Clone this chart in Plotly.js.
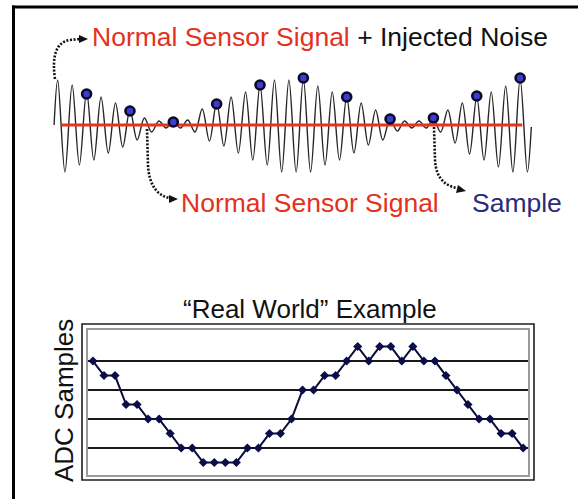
<!DOCTYPE html>
<html>
<head>
<meta charset="utf-8">
<script src="https://cdn.plot.ly/plotly-3.0.1.min.js"></script>
<style>html,body{margin:0;padding:0;background:#fff;}#chart{width:578px;height:499px;}</style>
</head>
<body>
<div id="chart"></div>
<script>
// ---- Top illustration: noisy signal extrema (amplitude relative to the normal signal) ----
const waveT = [-0.5, 0,1,2,3,4,5,6,7,8,9,10,11,12,13,14,15,16,17,18,19,20,21,22,23,24,25,26,27,28,29,30,31,32,33,34,35,36,37,38,39,40,41,42,43,44,45,46,47,48,49,50,51,52,53,54,55,56,57,58,59,60,61,62,63,64,65, 65.55];
const waveAmp = [0,
  45,-47,40,-40,33,-35,28,-28,22,-22,
  15,-15,7,-7,4,-3,4,-3,5,-7,
  16,-16,22,-21,28,-28,33,-35,40,-40,
  45,-47,45,-47,46,-47,39,-40,33,-35,
  28,-28,22,-20,15,-15,6,-6,4,-3,
  4,-3,6,-7,15,-18,22,-29,28,-35,
  33,-42,39,-47,46,-47,
  -2];
const sampleT = [4,10,16,22,28,34,40,46,52,58,64];
const sampleV = [31,14,3,21,40,47,28,6,7,29,47];
const signalT = [0.6, 64.3];
const signalV = [0, 0];

// ---- Bottom chart: "Real World" ADC samples ----
const adcIndex = Array.from({length: 40}, (_, i) => i);
const adcSamples = [8,7,7,5,5,4,4,3,2,2,1,1,1,1,2,2,3,3,4,6,6,7,7,8,9,8,9,9,8,9,8,8,7,6,5,4,4,3,3,2];
const adcGrid = [2,4,6,8];

// ---- Texts ----
const topLabelRed = "Normal Sensor Signal";
const topLabelBlack = " + Injected Noise";
const signalLabel = "Normal Sensor Signal";
const sampleLabel = "Sample";
const chartTitle = "\u201CReal World\u201D Example";
const yTitle = "ADC Samples";

const W = 578, H = 499;
const px = x => x / W;
const py = y => 1 - y / H;
const FONT = "Liberation Sans, Arial, Helvetica, sans-serif";
const RED = "#e4311d", NAVY = "#2b2b7c";

function path(cmds) {
  return cmds.map(c => {
    const L = c[0]; let s = L;
    for (let i = 1; i < c.length; i += 2) s += (i > 1 ? ',' : ' ') + px(c[i]).toFixed(5) + ' ' + py(c[i+1]).toFixed(5);
    return s;
  }).join(' ');
}

const traces = [
  {x: waveT, y: waveAmp, xaxis: 'x', yaxis: 'y', mode: 'lines',
   line: {color: '#262626', width: 1.4, shape: 'spline', smoothing: 1}, hoverinfo: 'skip'},
  {x: signalT, y: signalV, xaxis: 'x', yaxis: 'y', mode: 'lines',
   line: {color: '#e8321a', width: 3}, hoverinfo: 'skip'},
  {x: sampleT, y: sampleV, xaxis: 'x', yaxis: 'y', mode: 'markers',
   marker: {size: 9, color: '#3c3cd0', line: {color: '#0a0a28', width: 2.6}}, hoverinfo: 'skip'},
  {x: adcIndex, y: adcSamples, xaxis: 'x2', yaxis: 'y2', mode: 'lines+markers',
   line: {color: '#0c0c3c', width: 2}, marker: {symbol: 'diamond', size: 7, color: '#0c0c48'}, hoverinfo: 'skip'}
];

const dotted = {color: '#111', width: 2.6, dash: '2px,1.6px'};
const shapes = [
  {type: 'line', xref: 'paper', yref: 'paper', x0: px(13.5), x1: px(13.5), y0: py(5.5), y1: py(499), line: {color: '#000', width: 3}},
  {type: 'line', xref: 'paper', yref: 'paper', x0: px(12), x1: px(578), y0: py(7), y1: py(7), line: {color: '#000', width: 3}},
  {type: 'rect', xref: 'paper', yref: 'paper', x0: px(82), x1: px(534), y0: py(480), y1: py(324), line: {color: '#1e1e1e', width: 1.6}},
  {type: 'path', xref: 'paper', yref: 'paper', path: path([['M',55,79],['C',52,58, 55,42, 70,40],['L',80,39]]), line: dotted},
  {type: 'path', xref: 'paper', yref: 'paper', path: path([['M',88,39],['L',79,35],['L',79,43],['Z']]), fillcolor: '#111', line: {width: 0}},
  {type: 'path', xref: 'paper', yref: 'paper', path: path([['M',147,129],['L',148,165],['C',149,186, 158,196, 170,198]]), line: dotted},
  {type: 'path', xref: 'paper', yref: 'paper', path: path([['M',178,199],['L',169,195],['L',169,203],['Z']]), fillcolor: '#111', line: {width: 0}},
  {type: 'path', xref: 'paper', yref: 'paper', path: path([['M',434,127],['L',435,160],['C',436,180, 447,186, 457,188]]), line: dotted},
  {type: 'path', xref: 'paper', yref: 'paper', path: path([['M',466,191],['L',458,185],['L',456,193],['Z']]), fillcolor: '#111', line: {width: 0}}
];

const annotations = [
  {xref: 'paper', yref: 'paper', x: px(90), y: py(37), xanchor: 'left', yanchor: 'middle', showarrow: false,
   text: '<span style="color:' + RED + '">' + topLabelRed + '</span>' + topLabelBlack,
   font: {family: FONT, size: 26.5, color: '#111'}},
  {xref: 'paper', yref: 'paper', x: px(179), y: py(203), xanchor: 'left', yanchor: 'middle', showarrow: false,
   text: signalLabel, font: {family: FONT, size: 26.5, color: RED}},
  {xref: 'paper', yref: 'paper', x: px(470), y: py(203), xanchor: 'left', yanchor: 'middle', showarrow: false,
   text: sampleLabel, font: {family: FONT, size: 26.5, color: NAVY}},
  {xref: 'paper', yref: 'paper', x: px(310), y: py(309), xanchor: 'center', yanchor: 'middle', showarrow: false,
   text: chartTitle, font: {family: FONT, size: 26, color: '#111'}},
  {xref: 'paper', yref: 'paper', x: px(64), y: py(401), xanchor: 'center', yanchor: 'middle', showarrow: false,
   textangle: -90, text: yTitle, font: {family: FONT, size: 26, color: '#111'}}
];

const layout = {
  width: W, height: H,
  margin: {l: 0, r: 0, t: 0, b: 0, pad: 0},
  paper_bgcolor: '#fff', plot_bgcolor: 'rgba(0,0,0,0)',
  showlegend: false,
  xaxis: {domain: [0, 1], range: [-7.986, 72.01], visible: false, fixedrange: true},
  yaxis: {domain: [py(190), py(60)], range: [-65, 65], visible: false, fixedrange: true},
  xaxis2: {domain: [px(88), px(528)], range: [-0.45, 39.44], anchor: 'y2',
    showgrid: false, zeroline: false, showticklabels: false, ticks: '',
    showline: true, mirror: true, linecolor: '#9a9a9a', linewidth: 1.6, fixedrange: true},
  yaxis2: {domain: [py(475), py(330)], range: [0.14, 10.14], anchor: 'x2',
    tickmode: 'array', tickvals: adcGrid, showgrid: true, gridcolor: '#1a1a1a', gridwidth: 1.3,
    zeroline: false, showticklabels: false, ticks: '',
    showline: true, mirror: true, linecolor: '#9a9a9a', linewidth: 1.6, fixedrange: true},
  shapes: shapes,
  annotations: annotations
};

Plotly.newPlot('chart', traces, layout, {staticPlot: true, displayModeBar: false});
</script>
</body>
</html>
